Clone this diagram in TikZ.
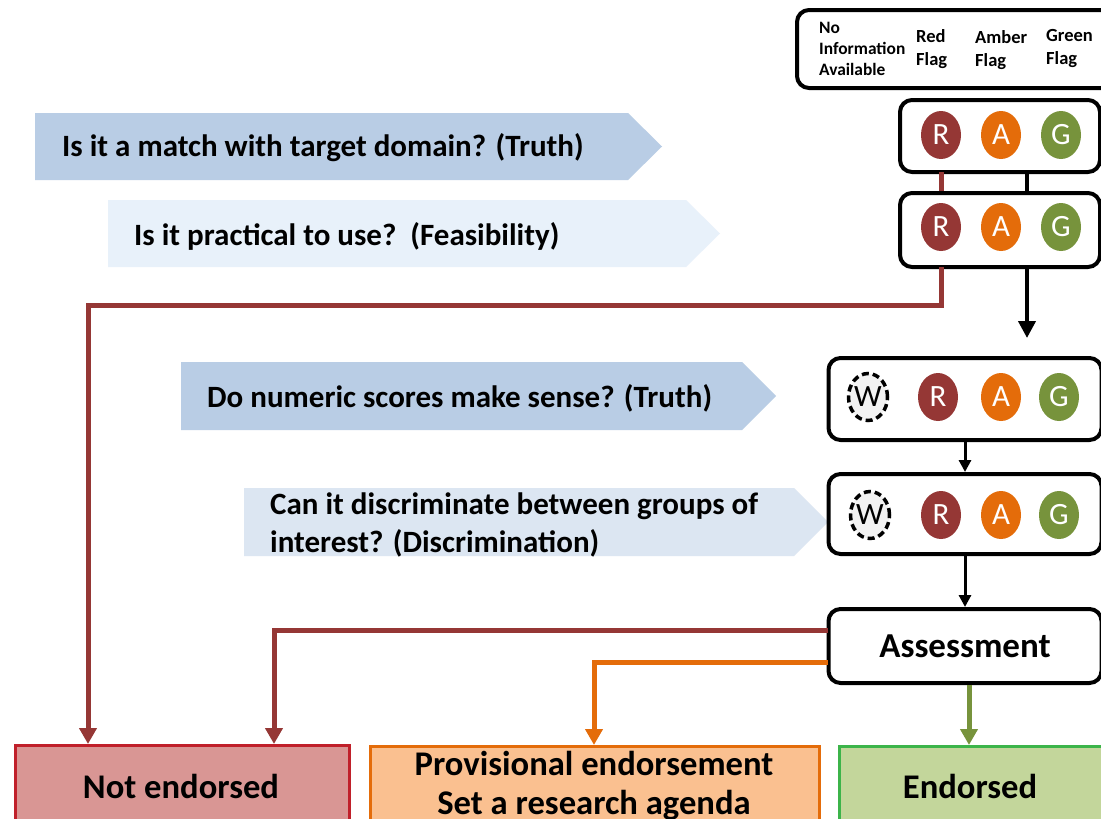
\documentclass[tikz,border=0pt]{standalone}
\usepackage{fontspec}
\setmainfont{Carlito}
\usetikzlibrary{arrows.meta,shapes.geometric}
\definecolor{qdark}{HTML}{B9CDE5}
\definecolor{qlight}{HTML}{E8F1FA}
\definecolor{qmid}{HTML}{DCE6F2}
\definecolor{rflag}{HTML}{953735}
\definecolor{aflag}{HTML}{E46C0A}
\definecolor{gflag}{HTML}{77933C}
\definecolor{wfill}{HTML}{F2F2F2}
\definecolor{nefill}{HTML}{D99694}
\definecolor{neline}{HTML}{C0202A}
\definecolor{pefill}{HTML}{FAC090}
\definecolor{efill}{HTML}{C3D69B}
\definecolor{eline}{HTML}{3CB44A}
\tikzset{
  x=1pt, y=-1pt,
  ragbox/.style={draw=black, line width=4pt, rounded corners=12pt, fill=white, inner sep=0pt},
  flag/.style={ellipse, minimum width=40pt, minimum height=48pt, inner sep=0pt, text=white, font=\fontsize{31}{31}\selectfont},
  wflag/.style={ellipse, minimum width=38pt, minimum height=47pt, inner sep=0pt, draw=black, dash pattern=on 7pt off 4pt, line width=3.5pt, fill=wfill, font=\fontsize{31}{31}\selectfont},
  qtext/.style={anchor=west, inner sep=0pt, font=\bfseries\fontsize{31}{38}\selectfont, align=left},
  redline/.style={draw=rflag, line width=5pt},
  redarrow/.style={redline, -{Triangle[width=17pt,length=16pt]}},
  blackarrow/.style={draw=black, line width=4pt, -{Triangle[width=17pt,length=17pt]}},
  smallarrow/.style={draw=black, line width=3pt, -{Triangle[width=12pt,length=12pt]}},
  outcome/.style={line width=3pt, inner sep=0pt},
  otext/.style={font=\bfseries\fontsize{34.6}{39}\selectfont, inner sep=0pt, align=center},
  legtext/.style={inner sep=0pt, font=\bfseries\fontsize{18.5}{23}\selectfont, align=left, anchor=west}
}
\begin{document}
\begin{tikzpicture}
\useasboundingbox (0,0) rectangle (1101,819);
\clip (0,0) rectangle (1101,819);
\fill[white] (0,0) rectangle (1101,819);

% legend
\node[ragbox, minimum width=316pt, minimum height=78pt] (leg) at (955,49) {};
\node[legtext, font=\bfseries\fontsize{17.4}{21}\selectfont] (l0) at (819,49) {No\\Information\\Available};
\node[legtext] (l1) at (916,49) {Red\\Flag};
\node[legtext] (l2) at (975,50) {Amber\\Flag};
\node[legtext] (l3) at (1046,49) {Green\\Flag};

% question chevrons
\fill[qdark] (35,113) -- (628,113) -- (662,146.5) -- (628,180) -- (35,180) -- cycle;
\node[qtext] (q1) at (62,148) {Is it a match with target domain? (Truth)};
\fill[qlight] (108,200) -- (686,200) -- (720,233.5) -- (686,267) -- (108,267) -- cycle;
\node[qtext] (q2) at (134,236) {Is it practical to use?\ \ (Feasibility)};
\fill[qdark] (181,362) -- (742,362) -- (776,396) -- (742,430) -- (181,430) -- cycle;
\node[qtext] (q3) at (207,398) {Do numeric scores make sense? (Truth)};
\fill[qmid] (244,488) -- (794,488) -- (828,522) -- (794,556) -- (244,556) -- cycle;
\node[qtext, align=left] (q4) at (270,525) {Can it discriminate between groups of\\interest? (Discrimination)};

% boxes
\node[ragbox, minimum width=200pt, minimum height=72pt] (b1) at (1000,136) {};
\node[ragbox, minimum width=200pt, minimum height=74pt] (b2) at (1000,230) {};
\node[ragbox, minimum width=273pt, minimum height=82pt] (b3) at (965,399) {};
\node[ragbox, minimum width=273pt, minimum height=80pt] (b4) at (965,514) {};
\node[ragbox, minimum width=273pt, minimum height=74pt, font=\bfseries\fontsize{35}{35}\selectfont] (as) at (965,646) {Assessment};

% connectors between b1 and b2
\coordinate (r1) at (941,172);
\coordinate (k1) at (1027,172);
\draw[redline] (r1) -- (r1 |- b2.north);
\draw[draw=black, line width=4pt] (k1) -- (k1 |- b2.north);

% flags
\node[flag, fill=rflag] (R1) at (941,135) {R};
\node[flag, fill=aflag] (A1) at (1001,135) {A};
\node[flag, fill=gflag] (G1) at (1061,135) {G};
\node[flag, fill=rflag] (R2) at (941,227) {R};
\node[flag, fill=aflag] (A2) at (1001,227) {A};
\node[flag, fill=gflag] (G2) at (1061,227) {G};
\node[wflag] (W3) at (868,397) {W};
\node[flag, fill=rflag] (R3) at (938,397) {R};
\node[flag, fill=aflag] (A3) at (1001,397) {A};
\node[flag, fill=gflag] (G3) at (1059,397) {G};
\node[wflag] (W4) at (870,515) {W};
\node[flag, fill=rflag] (R4) at (941,515) {R};
\node[flag, fill=aflag] (A4) at (1001,515) {A};
\node[flag, fill=gflag] (G4) at (1059,515) {G};

% outcomes
\node[outcome, draw=neline, fill=nefill, minimum width=334pt, minimum height=120pt, anchor=north west] (ne) at (14,744) {};
\node[otext] (net) at (181,786) {Not endorsed};
\node[outcome, draw=aflag, fill=pefill, minimum width=449pt, minimum height=120pt, anchor=north west] (pe) at (369,745) {};
\node[otext, anchor=north] (pet) at (594,751) {Provisional endorsement\\Set a research agenda};
\node[outcome, draw=eline, fill=efill, minimum width=300pt, minimum height=120pt, anchor=north west] (en) at (838,745) {};
\node[otext] (ent) at (970,786) {Endorsed};

% connectors
\coordinate (r2) at (941,267);
\coordinate (k2) at (1027,267);
\coordinate (nel) at (88,744);
\coordinate (ner) at (274,744);
\draw[redarrow] (r2) |- (nel |- 0,305) -- (nel);
\draw[blackarrow] (k2) -- (1027,338);
\draw[smallarrow] (b3.south) -- (b4.north);
\draw[smallarrow] (b4.south) -- (as.north);
\coordinate (ar) at (828,630);
\coordinate (ao) at (828,662);
\coordinate (pet1) at (594,745);
\coordinate (ent1) at (969,745);
\draw[redarrow] (ar) -| (ner);
\draw[draw=aflag, line width=5pt, -{Triangle[width=17pt,length=16pt]}] (ao) -| (pet1);
\draw[draw=gflag, line width=5pt, -{Triangle[width=17pt,length=16pt]}] (ent1 |- as.south) -- (ent1);
\end{tikzpicture}
\end{document}
